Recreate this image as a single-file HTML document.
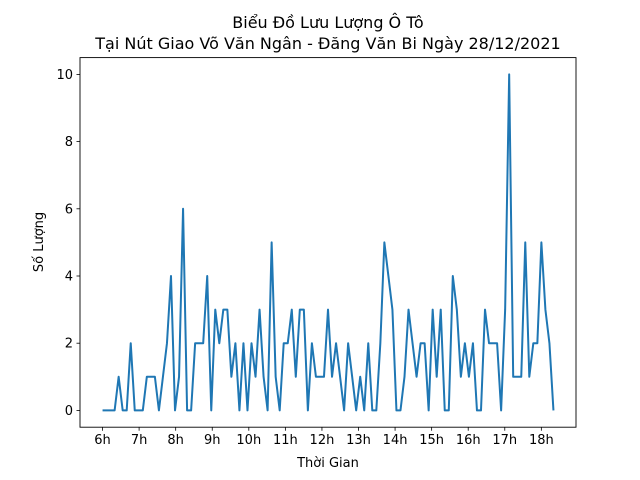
<!DOCTYPE html>
<html><head><meta charset="utf-8"><style>
html,body{margin:0;padding:0;background:#fff;}
svg{display:block;font-family:"DejaVu Sans","Liberation Sans",sans-serif;}
</style></head><body>
<svg id="chart" width="640" height="480" viewBox="0 0 640 480">
<rect width="640" height="480" fill="#fff"/>
<text x="328" y="28" font-size="16" text-anchor="middle">Biểu Đồ Lưu Lượng Ô Tô</text>
<text x="328" y="49" font-size="16" text-anchor="middle">Tại Nút Giao Võ Văn Ngân - Đăng Văn Bi Ngày 28/12/2021</text>
<g id="xt"></g>
<g id="yt"></g>
<path id="line" fill="none" stroke="#1f77b4" stroke-width="2" stroke-linejoin="round"/>
<rect x="80" y="57.6" width="496" height="369.6" fill="none" stroke="#000" stroke-width="0.9"/>
<text x="328" y="467" font-size="13" text-anchor="middle">Thời Gian</text>
<text x="0" y="0" font-size="13" text-anchor="middle" transform="translate(43,242) rotate(-90)">Số Lượng</text>
</svg>
<script>
const values = [0,0,0,0,1,0,0,2,0,0,0,1,1,1,0,1,2,4,0,1,6,0,0,2,2,2,4,0,3,2,3,3,1,2,0,2,0,2,1,3,1,0,5,1,0,2,2,3,1,3,3,0,2,1,1,1,3,1,2,1,0,2,1,0,1,0,2,0,0,2,5,4,3,0,0,1,3,2,1,2,2,0,3,1,3,0,0,4,3,1,2,1,2,0,0,3,2,2,2,0,3,10,1,1,1,5,1,2,2,5,3,2,0];
const startHour = 6;
const stepHours = 0.1101;
const xTickLabels = ["6h","7h","8h","9h","10h","11h","12h","13h","14h","15h","16h","17h","18h"];
const xTickHours = [6,7,8,9,10,11,12,13,14,15,16,17,18];
const yTicks = [0,2,4,6,8,10];

const NS="http://www.w3.org/2000/svg";
const L=80,R=576,T=57.6,B=427.2;
const times=values.map((v,i)=>startHour+i*stepHours);
const tmin=Math.min(...times),tmax=Math.max(...times),tp=(tmax-tmin)*0.05;
const vmin=Math.min(...values),vmax=Math.max(...values),vp=(vmax-vmin)*0.05;
const xs=t=>L+(t-(tmin-tp))/((tmax+tp)-(tmin-tp))*(R-L);
const ys=v=>B-(v-(vmin-vp))/((vmax+vp)-(vmin-vp))*(B-T);
document.getElementById('line').setAttribute('d',values.map((v,i)=>(i?'L':'M')+xs(times[i]).toFixed(2)+','+ys(v).toFixed(2)).join(''));
function mk(tag,attrs,parent,txt){const e=document.createElementNS(NS,tag);for(const k in attrs)e.setAttribute(k,attrs[k]);if(txt!==undefined)e.textContent=txt;parent.appendChild(e);return e;}
const xg=document.getElementById('xt');
xTickHours.forEach((h,i)=>{const x=xs(h);
 const l=mk('line',{x1:x,x2:x,y1:B,y2:B+3.5,stroke:'#000','stroke-width':0.8},xg);
 
 
 const t=mk('text',{x:x,y:B+17,'font-size':13,'text-anchor':'middle'},xg,xTickLabels[i]);
 
 
});
const yg=document.getElementById('yt');
yTicks.forEach(v=>{const y=ys(v);
 const l=mk('line',{x1:L-3.5,x2:L,y1:y,y2:y,stroke:'#000','stroke-width':0.8},yg);
 
 
 const t=mk('text',{x:L-7,y:y+4.5,'font-size':13,'text-anchor':'end'},yg,String(v));
 
 
});
</script>
</body></html>
